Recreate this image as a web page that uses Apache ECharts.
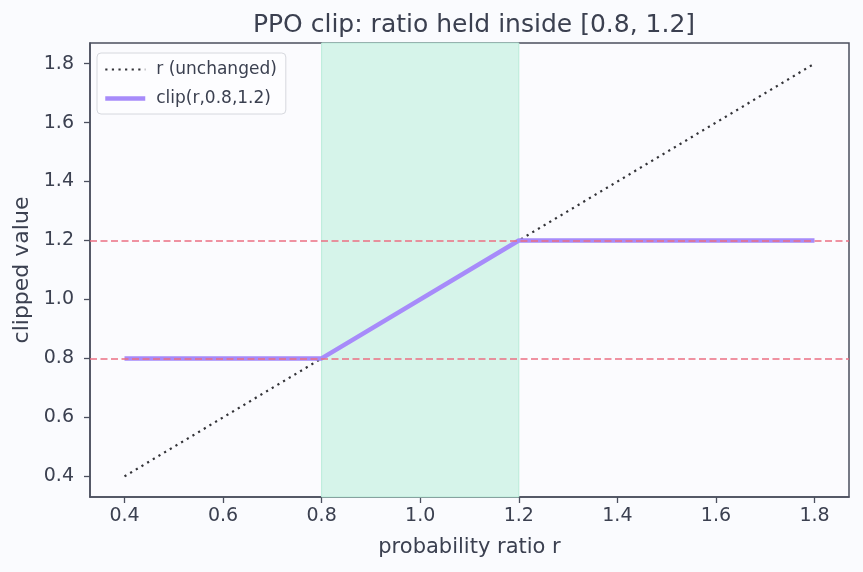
<!DOCTYPE html>
<html>
<head>
<meta charset="utf-8">
<script src="https://cdn.jsdelivr.net/npm/echarts@6/dist/echarts.min.js"></script>
<style>
html,body{margin:0;padding:0;background:#fafbfe;}
#c{width:863px;height:572px;}
</style>
</head>
<body>
<div id="c"></div>
<script>
// ---- data ----
const ratioX = [0.4, 0.8, 1.2, 1.8];
const unchangedY = [0.4, 0.8, 1.2, 1.8];
const clippedY = [0.8, 0.8, 1.2, 1.2];
const clipLow = 0.8;
const clipHigh = 1.2;
const xTicks = [0.4, 0.6, 0.8, 1.0, 1.2, 1.4, 1.6, 1.8];
const yTicks = [0.4, 0.6, 0.8, 1.0, 1.2, 1.4, 1.6, 1.8];
const seriesNames = ['r (unchanged)', 'clip(r,0.8,1.2)'];
const titleText = 'PPO clip: ratio held inside [0.8, 1.2]';
const xName = 'probability ratio r';
const yName = 'clipped value';

const FONT = 'DejaVu Sans';
const TXT = '#3b4050';
const AX = '#4b4f5e';
const DOT = '#333338';
const PURPLE = '#a78bfa';

const chart = echarts.init(document.getElementById('c'), null, {renderer: 'canvas'});

function makeAxis(ticks, name, nameGap, margin, nameSize) {
  return {
    type: 'value',
    min: 0.33,
    max: 1.87,
    name: name,
    nameGap: nameGap,
    nameLocation: 'middle',
    nameTextStyle: {color: TXT, fontFamily: FONT, fontSize: nameSize},
    splitLine: {show: false},
    axisLine: {show: true, lineStyle: {color: AX, width: 1.5}},
    axisTick: {show: true, length: 6, lineStyle: {color: AX, width: 1.3}, customValues: ticks},
    axisLabel: {color: TXT, fontFamily: FONT, fontSize: 19, margin: margin, customValues: ticks,
      formatter: v => v.toFixed(1)}
  };
}

const option = {
  backgroundColor: '#fafbfe',
  animation: false,
  title: {
    text: titleText, left: 469, top: 8, textAlign: 'center',
    textStyle: {color: TXT, fontFamily: FONT, fontSize: 25, fontWeight: 'normal'}
  },
  grid: {left: 90, right: 14, top: 43, bottom: 75, show: true,
    borderColor: AX, borderWidth: 1.5, backgroundColor: '#fbfbfe'},
  legend: {
    orient: 'vertical', left: 97, top: 53,
    data: [
      {name: seriesNames[0], itemStyle: {opacity: 0}, lineStyle: {width: 2.2, color: DOT, type: [2.2, 4.4]}},
      {name: seriesNames[1], itemStyle: {opacity: 0}, lineStyle: {width: 4.5, color: PURPLE}}
    ],
    itemWidth: 40, itemHeight: 14, itemGap: 12,
    padding: [8, 9, 7, 6],
    backgroundColor: '#fdfdff', borderColor: '#d6d8de', borderWidth: 1, borderRadius: 4,
    textStyle: {color: TXT, fontFamily: FONT, fontSize: 17, lineHeight: 14, padding: [0, 0, 0, 6]}
  },
  xAxis: makeAxis(xTicks, xName, 40, 10, 21),
  yAxis: makeAxis(yTicks, yName, 56, 16, 22),
  series: [
    {
      name: 'band', type: 'line', data: [], silent: true, z: 1,
      markArea: {
        silent: true,
        itemStyle: {color: '#d6f4ea', borderColor: '#b9ecd9', borderWidth: 1},
        data: [[{xAxis: clipLow}, {xAxis: clipHigh}]]
      }
    },
    {
      name: 'hlines', type: 'line', data: [], silent: true, z: 2,
      markLine: {
        silent: true, symbol: 'none', label: {show: false},
        lineStyle: {color: '#ec6f82', type: [7, 3.5], width: 1.5},
        data: [{yAxis: clipLow}, {yAxis: clipHigh}]
      }
    },
    {
      name: seriesNames[0], type: 'line', z: 3,
      data: ratioX.map((x, i) => [x, unchangedY[i]]),
      showSymbol: false, symbol: 'none',
      lineStyle: {color: DOT, width: 2.2, type: [2.2, 4.4]},
      itemStyle: {color: DOT}
    },
    {
      name: seriesNames[1], type: 'line', z: 4,
      data: ratioX.map((x, i) => [x, clippedY[i]]),
      showSymbol: false, symbol: 'none',
      lineStyle: {color: PURPLE, width: 4.5},
      itemStyle: {color: PURPLE}
    }
  ]
};
chart.setOption(option);
</script>
</body>
</html>
